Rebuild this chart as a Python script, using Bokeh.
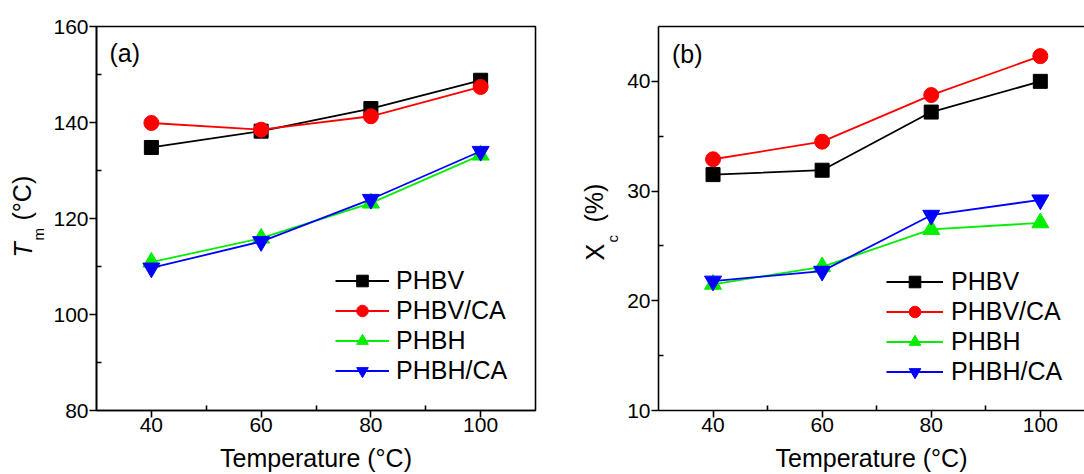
import math
from bokeh.plotting import figure
from bokeh.layouts import row
from bokeh.models import FixedTicker, Legend, LegendItem, Label, LinearAxis
from bokeh.embed import file_html
from bokeh.resources import INLINE

# ---------------- data ----------------
temperature = [40, 60, 80, 100]
series_names = ["PHBV", "PHBV/CA", "PHBH", "PHBH/CA"]

tm_phbv = [134.8, 138.2, 142.9, 148.8]
tm_phbv_ca = [139.9, 138.5, 141.3, 147.4]
tm_phbh = [110.9, 115.9, 123.2, 133.2]
tm_phbh_ca = [109.7, 115.2, 124.0, 134.0]

xc_phbv = [31.5, 31.9, 37.2, 40.0]
xc_phbv_ca = [32.9, 34.5, 38.75, 42.3]
xc_phbh = [21.5, 23.1, 26.5, 27.1]
xc_phbh_ca = [21.8, 22.7, 27.8, 29.2]

x_ticks = [40, 60, 80, 100]
x_minor = [50, 70, 90]
tm_ticks = [80, 100, 120, 140, 160]
tm_minor = [90, 110, 130, 150]
xc_ticks = [10, 20, 30, 40]
xc_minor = [15, 25, 35]

x_title = "Temperature (°C)"

colors = ["#000000", "#ff0000", "#00ee00", "#0000ff"]
markers = ["square", "circle", "triangle", "inverted_triangle"]
msizes = [14, 15, 17, 17]

FONT = "Liberation Sans"


def style_axes(p, yt, ym):
    p.xaxis.ticker = FixedTicker(ticks=x_ticks, minor_ticks=x_minor)
    p.yaxis.ticker = FixedTicker(ticks=yt, minor_ticks=ym)
    for ax in (p.xaxis[0], p.yaxis[0]):
        ax.axis_line_color = "black"
        ax.axis_line_width = 1.6
        ax.major_tick_line_color = "black"
        ax.major_tick_line_width = 1.6
        ax.minor_tick_line_color = "black"
        ax.minor_tick_line_width = 1.6
        ax.major_tick_out = 7
        ax.major_tick_in = 0
        ax.minor_tick_out = 0
        ax.minor_tick_in = 5
        ax.major_label_text_font = FONT
        ax.major_label_text_font_size = "21px"
        ax.major_label_text_color = "black"
    p.xaxis.major_label_standoff = 0
    p.yaxis.major_label_standoff = 1
    p.xaxis.axis_label = x_title
    p.xaxis.axis_label_text_font = FONT
    p.xaxis.axis_label_text_font_size = "25px"
    p.xaxis.axis_label_text_font_style = "normal"
    p.xaxis.axis_label_text_color = "black"
    p.xaxis.axis_label_standoff = 9
    p.xgrid.visible = False
    p.ygrid.visible = False


def add_series(p, ys_list, legend_x, legend_y, glyph_w, standoff):
    items = []
    for name, ys, c, m, s in zip(series_names, ys_list, colors, markers, msizes):
        lr = p.line(temperature, ys, line_color=c, line_width=1.8)
        sr = p.scatter(temperature, ys, marker=m, size=s, fill_color=c, line_color=c)
        items.append(LegendItem(label=name, renderers=[lr, sr]))
    leg = Legend(items=items, location=(legend_x, legend_y), padding=0, margin=0,
                 spacing=1, glyph_height=29, glyph_width=glyph_w, label_height=29,
                 label_standoff=standoff, border_line_color=None, background_fill_alpha=0,
                 label_text_font=FONT, label_text_font_size="25px", label_text_color="black")
    p.add_layout(leg)


def lab(p, text, x, y, size="25px", style="normal", angle=0.0, align="left"):
    p.add_layout(Label(x=x, y=y, x_units="screen", y_units="screen", text=text,
                       text_font=FONT, text_font_size=size, text_font_style=style,
                       text_color="black", angle=angle, text_align=align,
                       text_baseline="alphabetic"))


def title_strip(width):
    f = figure(width=width, height=474, x_range=(0, 1), y_range=(0, 1),
               x_axis_location=None, y_axis_location=None,
               output_backend="svg", toolbar_location=None,
               min_border_left=0, min_border_right=0, min_border_top=26, min_border_bottom=64)
    f.outline_line_color = None
    f.background_fill_color = "white"
    f.border_fill_color = "white"
    f.xgrid.visible = False
    f.ygrid.visible = False
    return f


# ---------------- y title of panel (a) ----------------
ya = title_strip(50)
lab(ya, "T", 22.7, 153, style="italic", angle=math.pi / 2)
lab(ya, "m", 37.8, 170, size="15px", angle=math.pi / 2)
lab(ya, "(°C)", 21.7, 190, angle=math.pi / 2)

# ---------------- panel (a) ----------------
p1 = figure(width=490, height=474, x_range=(30, 110), y_range=(80, 160),
            output_backend="svg", toolbar_location=None,
            min_border_left=46, min_border_right=5, min_border_top=26, min_border_bottom=64)
p1.outline_line_color = "black"
p1.outline_line_width = 1.6
p1.background_fill_color = "white"
p1.border_fill_color = "white"
style_axes(p1, tm_ticks, tm_minor)
add_series(p1, [tm_phbv, tm_phbv_ca, tm_phbh, tm_phbh_ca], 239, 25.5, 54, 7)
lab(p1, "(a)", 13, 358)

# ---------------- y title of panel (b) ----------------
yb = title_strip(80)
lab(yb, "X", 54.7, 150, angle=math.pi / 2)
lab(yb, "c", 71.8, 168, size="15px", angle=math.pi / 2)
lab(yb, "(%)", 53.7, 188, angle=math.pi / 2)

# ---------------- panel (b) ----------------
p2 = figure(width=464, height=474, x_range=(30, 108.1), y_range=(10, 45),
            output_backend="svg", toolbar_location=None,
            min_border_left=38, min_border_right=0, min_border_top=26, min_border_bottom=64)
p2.outline_line_color = None
p2.background_fill_color = "white"
p2.border_fill_color = "white"
style_axes(p2, xc_ticks, xc_minor)
top_axis = LinearAxis(ticker=FixedTicker(ticks=[]), axis_line_color="black", axis_line_width=1.6,
                      major_tick_out=0, major_tick_in=0, minor_tick_out=0, minor_tick_in=0,
                      major_label_text_font_size="0px", major_label_standoff=0)
p2.add_layout(top_axis, "above")
add_series(p2, [xc_phbv, xc_phbv_ca, xc_phbh, xc_phbh_ca], 228, 23.8, 57, 8)
lab(p2, "(b)", 13.5, 357)

layout = row(ya, p1, yb, p2)
open("out.html", "w").write(file_html(layout, INLINE))
